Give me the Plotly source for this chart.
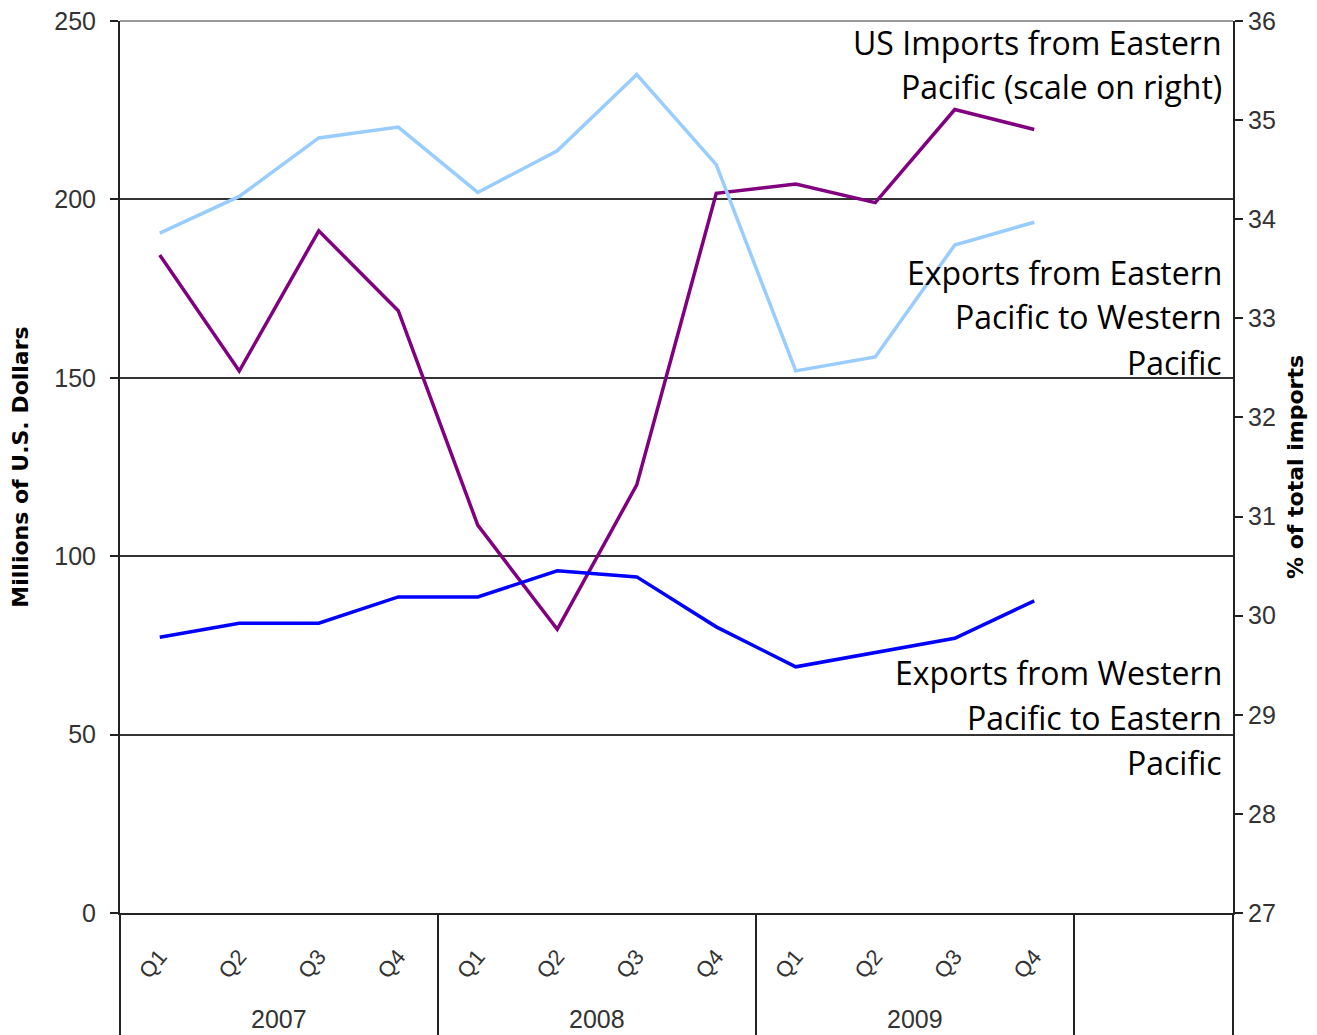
import plotly.graph_objects as go

quarters = ["Q1", "Q2", "Q3", "Q4"] * 3
years = ["2007", "2008", "2009"]

east_to_west = [184.4, 151.9, 191.2, 168.8, 108.7, 79.5, 120.0, 201.7, 204.3, 199.1, 225.2, 219.6]
west_to_east = [77.3, 81.2, 81.2, 88.6, 88.6, 95.9, 94.2, 80.2, 69.0, 73.1, 77.0, 87.5]
us_imports_pct = [33.86, 34.23, 34.82, 34.93, 34.27, 34.69, 35.46, 34.55, 32.47, 32.61, 33.74, 33.97]

xs = list(range(len(quarters)))
tick_font = dict(family="Liberation Sans", size=25, color="#333333")
note_font = dict(family="Open Sans", size=32, color="black")
title_font = dict(family="DejaVu Sans", size=22, color="black")

fig = go.Figure()
fig.add_trace(go.Scatter(x=xs, y=us_imports_pct, yaxis="y2", mode="lines",
                         line=dict(color="#99CCFF", width=3.5)))
fig.add_trace(go.Scatter(x=xs, y=east_to_west, mode="lines",
                         line=dict(color="#800080", width=3.5)))
fig.add_trace(go.Scatter(x=xs, y=west_to_east, mode="lines",
                         line=dict(color="#0000FF", width=3.5)))

# year labels and dividers under the category axis
shapes = []
for xv in [3.5, 7.5, 11.5]:
    shapes.append(dict(type="line", xref="x", yref="paper", x0=xv, x1=xv, y0=0, y1=-0.16,
                       line=dict(color="#222222", width=2)))
for xv in [0, 1]:
    shapes.append(dict(type="line", xref="paper", yref="paper", x0=xv, x1=xv, y0=0, y1=-0.16,
                       line=dict(color="#222222", width=2)))
shapes.append(dict(type="line", xref="paper", yref="paper", x0=0, x1=1, y0=1, y1=1,
                   line=dict(color="#999999", width=2)))

annotations = []
for i, yr in enumerate(years):
    annotations.append(dict(x=1.5 + 4 * i, y=(913 - 1019) / 892, xref="x", yref="paper", text=yr,
                            showarrow=False, font=tick_font, yanchor="middle"))

notes = [
    ("US Imports from Eastern", 42), ("Pacific (scale on right)", 86),
    ("Exports from Eastern", 272), ("Pacific to Western", 317), ("Pacific", 362),
    ("Exports from Western", 672), ("Pacific to Eastern", 717), ("Pacific", 762),
]
for txt, py in notes:
    annotations.append(dict(x=(1224 - 120) / 1113, y=(913 - py) / 892, xref="paper", yref="paper",
                            text=txt, showarrow=False, font=note_font,
                            xanchor="right", yanchor="middle"))

fig.update_layout(
    width=1309, height=1027,
    margin=dict(l=112, r=84, t=13, b=122),
    plot_bgcolor="white", paper_bgcolor="white",
    showlegend=False,
    shapes=shapes, annotations=annotations,
    xaxis=dict(range=[-0.5, 13.5], tickvals=xs, ticktext=quarters, tickangle=-50,
               ticks="", showgrid=False, zeroline=False,
               showline=True, linecolor="#222222", linewidth=2,
               tickfont=dict(family="Liberation Sans", size=22, color="#333333"),
               ticklabelstandoff=20, automargin=False),
    yaxis=dict(range=[0, 250], tickvals=[0, 50, 100, 150, 200, 250], ticks="outside",
               ticklen=8, tickwidth=2, tickcolor="#222222",
               showline=True, linecolor="#222222", linewidth=2,
               showgrid=True, gridcolor="#333333", gridwidth=2, zeroline=False,
               tickfont=tick_font, automargin=False, ticklabelstandoff=9,
               ticklabeloverflow="allow",
               title=dict(text="<b>Millions of U.S. Dollars</b>", standoff=23, font=title_font)),
    yaxis2=dict(range=[27, 36], dtick=1, overlaying="y", side="right", ticks="outside",
                ticklen=8, tickwidth=2, tickcolor="#222222",
                showline=True, linecolor="#222222", linewidth=2,
                showgrid=False, zeroline=False, tickfont=tick_font, automargin=False,
                ticklabeloverflow="allow",
                title=dict(text="<b>% of total imports</b>", standoff=13, font=title_font)),
)

fig.write_html("out.html")
